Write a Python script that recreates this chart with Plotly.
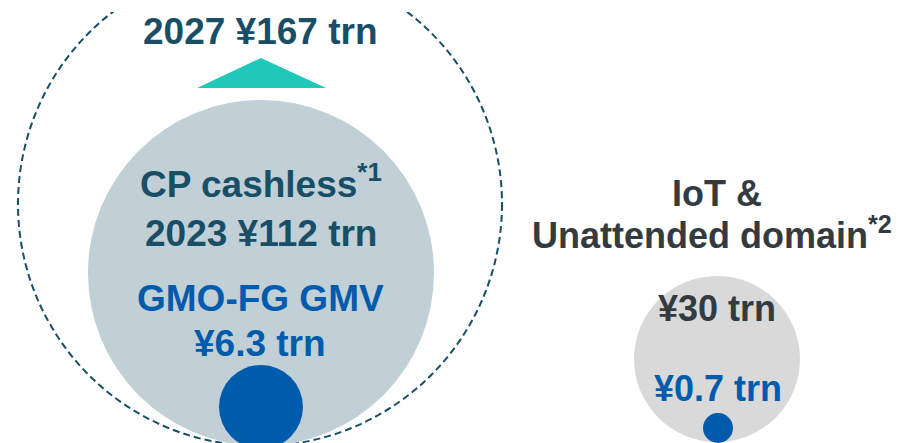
import plotly.graph_objects as go

# Market sizes (trillion yen)
segments = ["CP cashless 2027", "CP cashless 2023", "GMO-FG GMV", "IoT & Unattended domain", "GMO-FG IoT GMV"]
values_trn = [167, 112, 6.3, 30, 0.7]
years = [2027, 2023]

W, H = 906, 443

# Circle geometry (pixel space: centre x, centre y, radius)
circles = {
    "CP cashless 2027": dict(cx=260, cy=204, r=242),
    "CP cashless 2023": dict(cx=261, cy=273, r=173),
    "GMO-FG GMV": dict(cx=261, cy=407, r=42),
    "IoT & Unattended domain": dict(cx=717, cy=359, r=83),
    "GMO-FG IoT GMV": dict(cx=718, cy=428, r=15),
}

DARK_TEAL = "#184e66"
BLUE = "#005bac"
GREY_TXT = "#333a40"

fig = go.Figure()

shapes = []
val = dict(zip(segments, values_trn))

def circle(name, **style):
    c = circles[name]
    return dict(type="circle", xref="x", yref="y",
                x0=c["cx"] - c["r"], x1=c["cx"] + c["r"],
                y0=c["cy"] - c["r"], y1=c["cy"] + c["r"], **style)

shapes.append(circle("CP cashless 2027", line=dict(color=DARK_TEAL, width=2, dash="7px,4px"),
                     fillcolor="rgba(0,0,0,0)"))
# white panel behind the 2027 headline, interrupting the dashed outline
shapes.append(dict(type="rect", xref="x", yref="y", x0=100, x1=422, y0=-5, y1=12,
                   fillcolor="white", line=dict(width=0)))
shapes.append(circle("CP cashless 2023", line=dict(width=0), fillcolor="#c0d0d6"))
shapes.append(circle("GMO-FG GMV", line=dict(width=0), fillcolor=BLUE))
shapes.append(circle("IoT & Unattended domain", line=dict(width=0), fillcolor="#d9d9d9"))
shapes.append(circle("GMO-FG IoT GMV", line=dict(width=0), fillcolor=BLUE))

# Growth arrow head
shapes.append(dict(type="path", xref="x", yref="y",
                   path="M 197 88 L 261 58 L 326 88 Z",
                   fillcolor="#20c8b9", line=dict(width=0)))

FONT = "Liberation Sans, Arial, sans-serif"

def fmt(v):
    return f"¥{v:g} trn"

labels = [
    (260.5, 31, f"<b>{years[0]} {fmt(val['CP cashless 2027'])}</b>", DARK_TEAL, 37),
    (260.5, 181, "<b>CP cashless<sup>*1</sup></b>", DARK_TEAL, 37),
    (261, 233, f"<b>{years[1]} {fmt(val['CP cashless 2023'])}</b>", DARK_TEAL, 37),
    (260.5, 298, "<b>GMO-FG GMV</b>", BLUE, 37),
    (260, 343, f"<b>{fmt(val['GMO-FG GMV'])}</b>", BLUE, 37),
    (717, 193, "<b>IoT &amp;</b>", GREY_TXT, 36),
    (711.5, 233, "<b>Unattended domain<sup>*2</sup></b>", GREY_TXT, 36),
    (717, 308, f"<b>{fmt(val['IoT & Unattended domain'])}</b>", GREY_TXT, 36),
    (718, 388, f"<b>{fmt(val['GMO-FG IoT GMV'])}</b>", BLUE, 36),
]

annotations = [
    dict(x=x, y=y, xref="x", yref="y", text=t, showarrow=False,
         xanchor="center", yanchor="middle",
         font=dict(family=FONT, size=s, color=c))
    for x, y, t, c, s in labels
]

fig.update_layout(
    width=W, height=H,
    margin=dict(l=0, r=0, t=0, b=0),
    paper_bgcolor="white", plot_bgcolor="white",
    xaxis=dict(range=[0, W], visible=False, fixedrange=True),
    yaxis=dict(range=[H, 0], visible=False, fixedrange=True),
    shapes=shapes,
    annotations=annotations,
    showlegend=False,
)

fig.write_html("out.html")
